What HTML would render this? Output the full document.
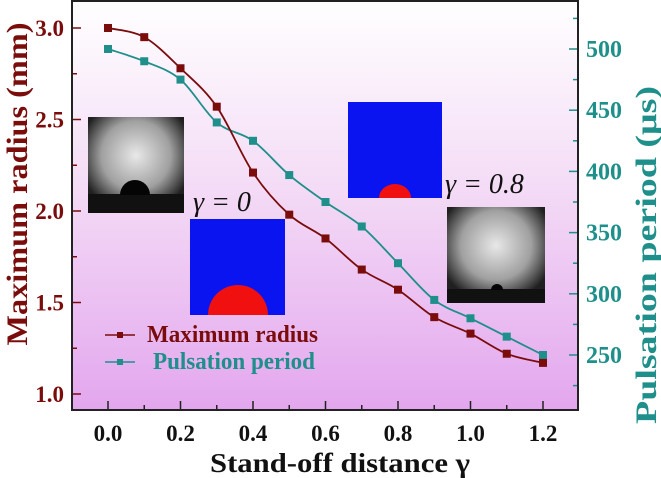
<!DOCTYPE html>
<html><head><meta charset="utf-8"><style>
body{margin:0;background:#fff;}
svg{display:block;font-family:"Liberation Serif",serif;font-weight:bold;}
</style></head><body>
<svg width="661" height="478" viewBox="0 0 661 478">
<defs>
<linearGradient id="bg" x1="0" y1="0" x2="0" y2="1">
<stop offset="0" stop-color="#ffffff"/><stop offset="0.45" stop-color="#f4dcf6"/><stop offset="1" stop-color="#e3a6ee"/>
</linearGradient>
<radialGradient id="ph1" cx="0.5" cy="0.4" r="0.6"><stop offset="0" stop-color="#e8e8e8"/><stop offset="0.6" stop-color="#a0a0a0"/><stop offset="1" stop-color="#202020"/></radialGradient>
</defs>
<rect x="72" y="1" width="506" height="409" fill="url(#bg)"/>
<g id="insets">
<rect x="88" y="117" width="96" height="96" fill="url(#ph1)"/>
<rect x="88" y="194" width="96" height="19" fill="#111"/>
<path d="M120 195 A15 15 0 0 1 150 195 Z" fill="#050505"/>
<rect x="190" y="219" width="95" height="96" fill="#0a14f0"/>
<path d="M208 315 A30 30 0 0 1 268 315 Z" fill="#f01010"/>
<rect x="348" y="102" width="94" height="96" fill="#0a14f0"/>
<path d="M379 198 A16 14 0 0 1 411 198 Z" fill="#f01010"/>
<rect x="447" y="207" width="98" height="96" fill="url(#ph1)"/>
<rect x="447" y="289" width="98" height="14" fill="#111"/>
<path d="M491 290 A6 6 0 0 1 503 290 Z" fill="#050505"/>
<text x="193" y="211" font-size="28" font-style="italic" font-weight="normal" fill="#111">γ = 0</text>
<text x="445" y="193" font-size="28" font-style="italic" font-weight="normal" fill="#111">γ = 0.8</text>
</g>
<g id="axes"></g>
<g id="series"></g>
<g>
<line x1="105" y1="335" x2="135" y2="335" stroke="#7a0c0c" stroke-width="1.5"/><rect x="117" y="332" width="6" height="6" fill="#7a0c0c"/>
<text x="147" y="342" font-size="24" fill="#7a0c0c" textLength="171" lengthAdjust="spacingAndGlyphs">Maximum radius</text>
<line x1="105" y1="362" x2="135" y2="362" stroke="#1e8f8a" stroke-width="1.5"/><rect x="117" y="359" width="6" height="6" fill="#1e8f8a"/>
<text x="153" y="369" font-size="24" fill="#1e8f8a" textLength="162" lengthAdjust="spacingAndGlyphs">Pulsation period</text>
</g>
<rect x="72" y="1" width="506" height="409" fill="none" stroke="#222" stroke-width="2"/>
<text x="340" y="472" font-size="27" fill="#111" text-anchor="middle" textLength="260" lengthAdjust="spacingAndGlyphs">Stand-off distance γ</text>
<text transform="translate(27 184) rotate(-90)" font-size="30" fill="#7a0c0c" text-anchor="middle" textLength="323" lengthAdjust="spacingAndGlyphs">Maximum radius (mm)</text>
<text transform="translate(656 255) rotate(-90)" font-size="30" fill="#1e8f8a" text-anchor="middle" textLength="338" lengthAdjust="spacingAndGlyphs">Pulsation period (μs)</text>
</svg>
<script>
const xValues=[0,0.1,0.2,0.3,0.4,0.5,0.6,0.7,0.8,0.9,1.0,1.1,1.2];
const radius=[3.0,2.95,2.78,2.57,2.21,1.98,1.85,1.68,1.57,1.42,1.33,1.22,1.17];
const period=[500,490,475,440,425,397,375,355,325,295,280,265,250];
const xTicks=["0.0","0.2","0.4","0.6","0.8","1.0","1.2"];
const leftTicks=["1.0","1.5","2.0","2.5","3.0"];
const rightTicks=["250","300","350","400","450","500"];
const NS="http://www.w3.org/2000/svg";
const X=v=>108+v*362.5;
const YL=v=>394-(v-1)*183;
const YR=v=>355-(v-250)*1.224;
const axes=document.getElementById('axes'),ser=document.getElementById('series');
function mk(tag,at,parent){const e=document.createElementNS(NS,tag);for(const k in at)e.setAttribute(k,at[k]);parent.appendChild(e);return e;}
for(let i=0;i<=12;i++){const v=i/10;const l=mk('line',{x1:X(v),x2:X(v),y1:410,y2:i%2?405:401,stroke:'#222','stroke-width':1.5},axes);

}
xTicks.forEach(t=>{const e=mk('text',{x:X(+t),y:441,'font-size':23,fill:'#111','text-anchor':'middle'},axes);e.textContent=t;

});
for(let v=1;v<=3.01;v+=0.25){mk('line',{x1:72,x2:Math.round(v*4)%2?77:81,y1:YL(v),y2:YL(v),stroke:'#7a0c0c','stroke-width':1.5},axes);}
leftTicks.forEach(t=>{const e=mk('text',{x:64,y:YL(+t)+8,'font-size':23,fill:'#7a0c0c','text-anchor':'end'},axes);e.textContent=t;

});
for(let v=225;v<=525;v+=25){if(YR(v)<2)continue;mk('line',{x1:578,x2:v%50?573:569,y1:YR(v),y2:YR(v),stroke:'#1e8f8a','stroke-width':1.5},axes);}
rightTicks.forEach(t=>{const e=mk('text',{x:586,y:YR(+t)+8,'font-size':24,fill:'#1e8f8a'},axes);e.textContent=t;

});
function smooth(pts){let d='M'+pts[0][0]+' '+pts[0][1];for(let i=0;i<pts.length-1;i++){const p0=pts[i-1]||pts[i],p1=pts[i],p2=pts[i+1],p3=pts[i+2]||p2;
d+=` C${p1[0]+(p2[0]-p0[0])/6} ${p1[1]+(p2[1]-p0[1])/6} ${p2[0]-(p3[0]-p1[0])/6} ${p2[1]-(p3[1]-p1[1])/6} ${p2[0]} ${p2[1]}`;}return d;}
function draw(vals,Y,color,name){const pts=xValues.map((x,i)=>[X(x),Y(vals[i])]);
const p=mk('path',{d:smooth(pts),fill:'none',stroke:color,'stroke-width':1.8},ser);


pts.forEach(q=>{const r=mk('rect',{x:q[0]-4,y:q[1]-4,width:8,height:8,fill:color},ser);

});}
draw(period,YR,'#1e8f8a','pulsation-period');
draw(radius,YL,'#7a0c0c','maximum-radius');
</script>
</body></html>
